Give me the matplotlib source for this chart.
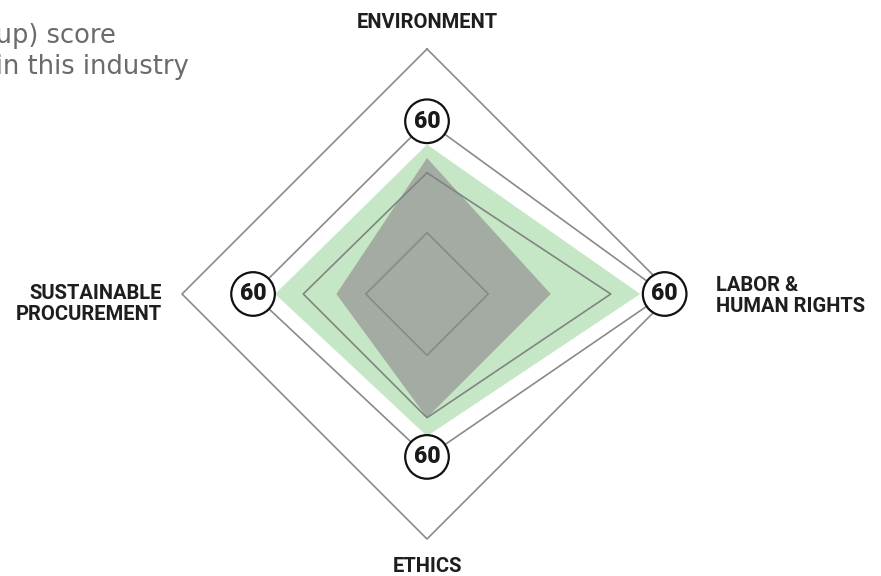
import numpy as np
import matplotlib
matplotlib.use("Agg")
import matplotlib.pyplot as plt

plt.rcParams['font.family'] = ['Roboto', 'DejaVu Sans']
LABEL_FONT = ['Roboto', 'DejaVu Sans']

# theme order: top, right, bottom, left
themes = ['ENVIRONMENT', 'LABOR &\nHUMAN RIGHTS', 'ETHICS', 'SUSTAINABLE\nPROCUREMENT']
angles_deg = [90, 0, -90, 180]

your_score = [61, 87, 58, 62]
average_score = [55.5, 50.5, 50.5, 37]
best_score = [49.5, 75, 50.5, 50.5]
label_ring = [70.5, 97, 66.5, 71]
label_values = ['60', '60', '60', '60']
grid_levels = [25, 100]


def to_xy(values):
    a = np.radians(angles_deg)
    v = np.asarray(values, dtype=float)
    x = v * np.cos(a)
    y = v * np.sin(a)
    return np.append(x, x[0]), np.append(y, y[0])


fig = plt.figure(figsize=(8.81, 5.76), dpi=100)
ax = fig.add_axes([0, 0, 1, 1])
scale = 2.45  # px per unit
cx, cy = 427, 294
ax.set_xlim(-cx / scale, (881 - cx) / scale)
ax.set_ylim(-(576 - cy) / scale, cy / scale)
ax.set_aspect('equal')
ax.axis('off')

# fills
x, y = to_xy(your_score)
ax.fill(x, y, color='#c6e7c6', lw=0, zorder=1)
x, y = to_xy(average_score)
ax.fill(x, y, color='#a3aba3', lw=0, zorder=2)

# grid diamonds + outlines
for lvl in grid_levels:
    x, y = to_xy([lvl] * 4)
    ax.plot(x, y, color='#8a8a8a', lw=1.2, zorder=3)
x, y = to_xy(best_score)
ax.plot(x, y, color='#7f8580', lw=1.2, zorder=3)
x, y = to_xy(label_ring)
ax.plot(x, y, color='#8a8a8a', lw=1.2, zorder=3)

# score badges
bx, by = to_xy(label_ring)
for xi, yi, txt in zip(bx[:-1], by[:-1], label_values):
    ax.add_patch(plt.Circle((xi, yi), 8.9, facecolor='white', edgecolor='#111111', lw=1.6, zorder=4))
    ax.text(xi, yi, txt, ha='center', va='center', fontsize=16.5, fontweight='black',
            family=LABEL_FONT, color='#1a1a1a', zorder=5)

# theme labels
lab_kw = dict(fontsize=14.5, fontweight='bold', color='#1e1e1e', linespacing=1.1, family=LABEL_FONT)
ax.text(0, (cy - 22) / scale, themes[0], ha='center', va='center', **lab_kw)
ax.text((716 - cx) / scale, (cy - 296) / scale, themes[1], ha='left', va='center', **lab_kw)
ax.text(0, (cy - 567) / scale, themes[2], ha='center', va='center', **lab_kw)
ax.text((162 - cx) / scale, (cy - 304) / scale, themes[3], ha='right', va='center',
        multialignment='right', **lab_kw)

# legend text (clipped at the left edge in the original)
leg_kw = dict(fontsize=18.5, color='#6b6b6b', ha='right', va='center', family='DejaVu Sans')
ax.text((116 - cx) / scale, (cy - 36) / scale, 'Average (industry group) score', **leg_kw)
ax.text((189 - cx) / scale, (cy - 67) / scale, 'Best score in this industry', **leg_kw)

fig.savefig('out.png', dpi=100, facecolor='white')
